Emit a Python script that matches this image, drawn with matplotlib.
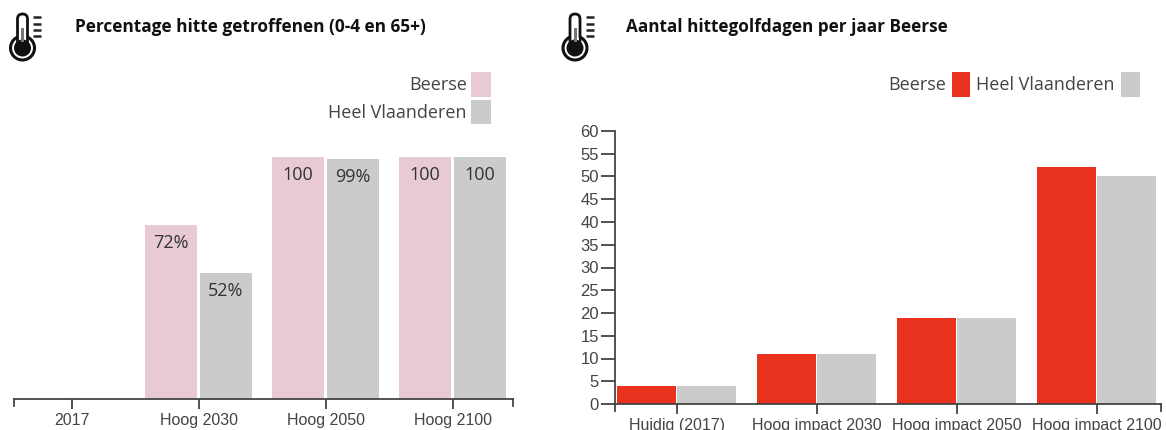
import matplotlib
matplotlib.use("Agg")
import matplotlib.pyplot as plt
from matplotlib.patches import Circle, FancyBboxPatch, Rectangle

W, H = 1166, 430

left_cats = ["2017", "Hoog 2030", "Hoog 2050", "Hoog 2100"]
left_beerse = [0, 72, 100, 100]
left_vlaanderen = [0, 52, 99, 100]
left_beerse_txt = ["", "72%", "100", "100"]
left_vlaanderen_txt = ["", "52%", "99%", "100"]

right_cats = ["Huidig (2017)", "Hoog impact 2030", "Hoog impact 2050", "Hoog impact 2100"]
right_beerse = [4, 11, 19, 52]
right_vlaanderen = [4, 11, 19, 50]
right_yticks = list(range(0, 65, 5))

PINK = "#E8CAD7"
GREY = "#CBCBCB"
RED = "#E8321E"
DARK = "#444444"
AXIS_FONT = "Liberation Sans"
UI_FONT = "Open Sans"


def px_axes(fig, x0, y0, x1, y1):
    # axes from pixel box, y measured from the top
    return fig.add_axes([x0 / W, 1 - y1 / H, (x1 - x0) / W, (y1 - y0) / H])


def draw_icon(ov, cx):
    # thermometer icon, cx is the centre of the bulb
    ov.add_patch(Circle((cx, 48), 12, fc="white", ec="#111111", lw=2.2, zorder=3))
    ov.add_patch(FancyBboxPatch((cx - 5, 14), 10, 32, boxstyle="round,pad=0,rounding_size=5",
                                fc="white", ec="#111111", lw=2, zorder=4))
    ov.add_patch(Rectangle((cx - 3.5, 38), 7, 8, fc="white", ec="none", zorder=5))
    ov.add_patch(Circle((cx, 48), 8.5, fc="#111111", ec="none", zorder=6))
    ov.add_patch(Rectangle((cx - 1.5, 28), 3, 14, fc="#777777", ec="none", zorder=6))
    for y in [17, 24, 30, 36]:
        ov.plot([cx + 10.5, cx + 18.5], [y, y], color="#222222", lw=1.8, zorder=5,
                solid_capstyle="butt")


def draw_swatch(ov, x0, y0, x1, y1, color):
    ov.add_patch(Rectangle((x0, y0), x1 - x0, y1 - y0, fc=color, ec="none"))


def style_x(ax):
    for side in ["top", "right"]:
        ax.spines[side].set_visible(False)
    ax.spines["bottom"].set_color(DARK)
    ax.spines["bottom"].set_linewidth(1.3)
    ax.tick_params(axis="x", length=7, width=1.3, color=DARK, labelcolor=DARK, pad=3)
    for lab in ax.get_xticklabels():
        lab.set_fontfamily(AXIS_FONT)
        lab.set_fontsize(11.5)


fig = plt.figure(figsize=(W / 100, H / 100), dpi=100)

# linker grafiek
ax1 = px_axes(fig, 14, 157, 513, 399)
x = range(len(left_cats))
b1 = ax1.bar([i - 0.22 for i in x], left_beerse, width=0.41, color=PINK)
b2 = ax1.bar([i + 0.21 for i in x], left_vlaanderen, width=0.41, color=GREY)
for bars, labels in [(b1, left_beerse_txt), (b2, left_vlaanderen_txt)]:
    for bar, txt in zip(bars, labels):
        ax1.annotate(txt, (bar.get_x() + bar.get_width() / 2, bar.get_height()),
                     xytext=(0, -6.5), textcoords="offset points", ha="center", va="top",
                     fontsize=13, fontfamily=UI_FONT, color="#333333")
ax1.set_xlim(-0.457, 3.472)
ax1.set_ylim(0, 100)
ax1.set_xticks(list(x), left_cats)
ax1.set_yticks([])
ax1.spines["left"].set_visible(False)
style_x(ax1)
for xs in (0, 1):
    ax1.plot([xs, xs], [0, -7 / 242], transform=ax1.transAxes, clip_on=False,
             color=DARK, lw=1.3)

# rechter grafiek
ax2 = px_axes(fig, 615, 131, 1161, 404)
x = range(len(right_cats))
ax2.bar([i - 0.22 for i in x], right_beerse, width=0.42, color=RED)
ax2.bar([i + 0.213 for i in x], right_vlaanderen, width=0.42, color=GREY)
ax2.set_xlim(-0.443, 3.457)
ax2.set_ylim(0, 60)
ax2.set_xticks(list(x), right_cats)
ax2.set_yticks(right_yticks)
ax2.spines["left"].set_color(DARK)
ax2.spines["left"].set_linewidth(1.3)
ax2.tick_params(axis="y", length=10, width=1.3, color=DARK, labelcolor=DARK, pad=1.5)
for lab in ax2.get_yticklabels():
    lab.set_fontfamily(AXIS_FONT)
    lab.set_fontsize(12)
style_x(ax2)
for xs in (0, 1):
    ax2.plot([xs, xs], [0, -7 / 273], transform=ax2.transAxes, clip_on=False,
             color=DARK, lw=1.3)

# overlay in pixels voor iconen, titels en legenda's
ov = fig.add_axes([0, 0, 1, 1], zorder=10)
ov.set_xlim(0, W)
ov.set_ylim(H, 0)
ov.axis("off")
ov.patch.set_alpha(0)

draw_icon(ov, 22.5)
draw_icon(ov, 575)
ov.text(75, 27, "Percentage hitte getroffenen (0-4 en 65+)", fontsize=12.4, fontweight="bold",
        fontfamily=UI_FONT, color="#111111", va="center")
ov.text(626, 27, "Aantal hittegolfdagen per jaar Beerse", fontsize=12.3, fontweight="bold",
        fontfamily=UI_FONT, color="#111111", va="center")

draw_swatch(ov, 471, 72, 491, 97, PINK)
draw_swatch(ov, 471, 100, 491, 124, GREY)
ov.text(467, 85.5, "Beerse", ha="right", va="center", fontsize=13, fontfamily=UI_FONT, color=DARK)
ov.text(467, 112.5, "Heel Vlaanderen", ha="right", va="center", fontsize=13, fontfamily=UI_FONT, color=DARK)

draw_swatch(ov, 952, 72, 970, 97, RED)
draw_swatch(ov, 1121, 72, 1140, 97, GREY)
ov.text(946, 85.5, "Beerse", ha="right", va="center", fontsize=13, fontfamily=UI_FONT, color=DARK)
ov.text(1115, 85.5, "Heel Vlaanderen", ha="right", va="center", fontsize=13, fontfamily=UI_FONT, color=DARK)

fig.savefig("out.png", dpi=100)
